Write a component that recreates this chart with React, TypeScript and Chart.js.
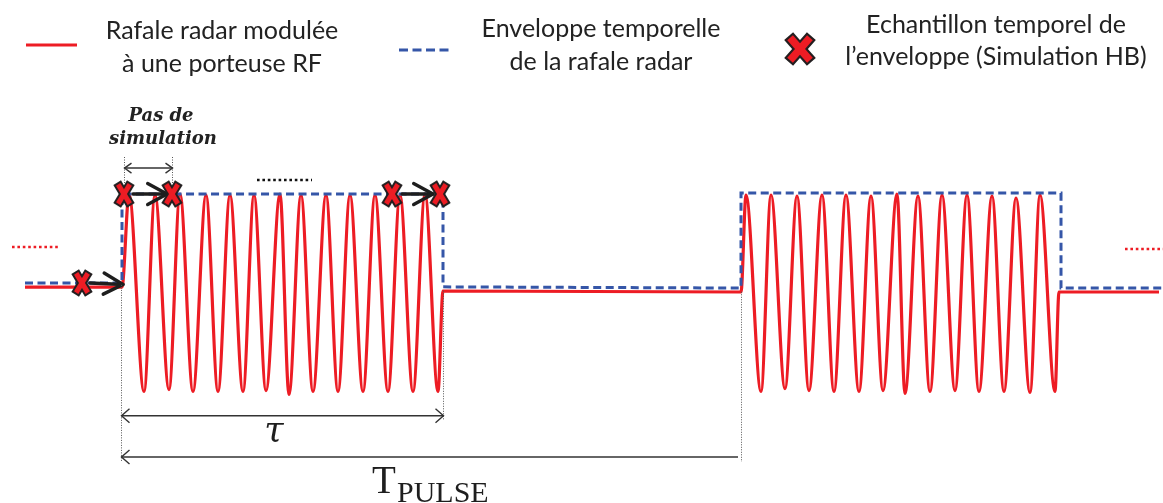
import React, { useEffect, useRef } from "react";
import { Chart, registerables } from "chart.js";

Chart.register(...registerables);

const W = 1163;
const H = 503;

// ---------- data (time in arbitrary units, amplitude normalised) ----------
const leadT = [25, 122];
const leadV = [0.058, 0.058];

const burst1PeakT = [129, 155, 180, 206, 230, 254, 280, 301, 326, 350, 375, 400, 425];
const burst1PeakV = [1.0, 0.99, 1.0, 0.99, 0.99, 0.99, 1.0, 0.99, 0.99, 0.99, 0.99, 0.99, 1.0];
const burst1TroughT = [144, 169, 193, 218, 243, 266, 289, 313, 338, 363, 388, 413, 438];
const burst1TroughV = [-1.0, -0.98, -1.0, -1.0, -1.0, -0.99, -1.03, -1.0, -1.0, -1.0, -1.0, -1.0, -1.0];

const gapT = [443, 741];
const gapV = [0.018, 0.008];

const burst2PeakT = [746, 771, 797, 822, 846, 871, 897, 918, 942, 967, 992, 1016, 1040];
const burst2PeakV = [0.99, 0.99, 0.98, 0.99, 0.99, 0.98, 1.0, 0.98, 0.99, 0.99, 0.98, 0.96, 0.99];
const burst2TroughT = [761, 785, 809, 834, 859, 883, 905, 930, 955, 979, 1004, 1030, 1055];
const burst2TroughV = [-1.0, -0.97, -0.99, -1.0, -1.0, -0.99, -1.02, -1.0, -0.99, -1.0, -1.0, -1.01, -1.0];

const tailT = [1059, 1159];
const tailV = [0.008, 0.008];

const envT = [25, 122, 122, 443, 443, 741, 741, 1061, 1061, 1163];
const envV = [0.099, 0.099, 1.0, 1.0, 0.06, 0.048, 1.01, 1.01, 0.048, 0.048];

const sampleT = [82, 124, 172, 392, 440];
const sampleV = [0.099, 1.0, 1.0, 1.0, 1.0];

// annotation anchors (time / amplitude)
const pulseStartT = 121;
const pulseEndT = 443;
const nextPulseT = 741;
const tauArrowV = -1.245;
const tpulseArrowV = -1.663;
const stepArrowV = 1.263;
const stepGuideTopV = 1.375;
const ellipsisT = [257, 312];
const ellipsisV = 1.142;
const leftDotsT = [12, 60];
const leftDotsV = 0.463;
const rightDotsT = [1125, 1163];
const rightDotsV = 0.443;

const legendLabels = [
  ["Rafale radar modulée", "à une porteuse RF"],
  ["Enveloppe temporelle", "de la rafale radar"],
  ["Echantillon temporel de", "l\u2019enveloppe (Simulation HB)"],
];

const RED = "#ed1c24";
const BLUE = "#3556a8";
const INK = "#222222";

function makeCross(w: number, h: number, t: number, o: number): HTMLCanvasElement {
  const c = document.createElement("canvas");
  c.width = w;
  c.height = h;
  const g = c.getContext("2d")!;
  const m = (t + 2 * o) * 0.72;
  const segs = [
    [m, m, w - m, h - m],
    [w - m, m, m, h - m],
  ];
  g.lineCap = "square";
  g.strokeStyle = "#231f20";
  g.lineWidth = t + 2 * o;
  segs.forEach(([a, b, cc, d]) => {
    g.beginPath();
    g.moveTo(a, b);
    g.lineTo(cc, d);
    g.stroke();
  });
  g.strokeStyle = RED;
  g.lineWidth = t;
  segs.forEach(([a, b, cc, d]) => {
    g.beginPath();
    g.moveTo(a, b);
    g.lineTo(cc, d);
    g.stroke();
  });
  return c;
}

function buildCarrier() {
  const pts: { x: number; y: number }[] = [];
  leadT.forEach((t, i) => pts.push({ x: t, y: leadV[i] }));
  burst1PeakT.forEach((t, i) => {
    pts.push({ x: t, y: burst1PeakV[i] });
    pts.push({ x: burst1TroughT[i], y: burst1TroughV[i] });
  });
  gapT.forEach((t, i) => pts.push({ x: t, y: gapV[i] }));
  burst2PeakT.forEach((t, i) => {
    pts.push({ x: t, y: burst2PeakV[i] });
    pts.push({ x: burst2TroughT[i], y: burst2TroughV[i] });
  });
  tailT.forEach((t, i) => pts.push({ x: t, y: tailV[i] }));
  return pts;
}

function boldArrow(ctx: CanvasRenderingContext2D, x1: number, y1: number, x2: number, y2: number) {
  const ang = Math.atan2(y2 - y1, x2 - x1);
  ctx.save();
  ctx.strokeStyle = "#1e1e1e";
  ctx.lineWidth = 3.4;
  ctx.lineCap = "round";
  ctx.lineJoin = "round";
  ctx.beginPath();
  ctx.moveTo(x1, y1);
  ctx.lineTo(x2, y2);
  ctx.stroke();
  const L = 22;
  const a = 0.5;
  ctx.beginPath();
  ctx.moveTo(x2 - L * Math.cos(ang - a), y2 - L * Math.sin(ang - a));
  ctx.lineTo(x2, y2);
  ctx.lineTo(x2 - L * Math.cos(ang + a), y2 - L * Math.sin(ang + a));
  ctx.stroke();
  ctx.restore();
}

function thinArrow(
  ctx: CanvasRenderingContext2D,
  x1: number,
  x2: number,
  y: number,
  headL: boolean,
  headR: boolean,
  hl = 8,
  hw = 7
) {
  ctx.save();
  ctx.strokeStyle = "#333";
  ctx.lineWidth = 1.4;
  ctx.beginPath();
  ctx.moveTo(x1, y);
  ctx.lineTo(x2, y);
  ctx.stroke();
  if (headL) {
    ctx.beginPath();
    ctx.moveTo(x1 + hl, y - hw);
    ctx.lineTo(x1, y);
    ctx.lineTo(x1 + hl, y + hw);
    ctx.stroke();
  }
  if (headR) {
    ctx.beginPath();
    ctx.moveTo(x2 - hl, y - hw);
    ctx.lineTo(x2, y);
    ctx.lineTo(x2 - hl, y + hw);
    ctx.stroke();
  }
  ctx.restore();
}

function dottedV(ctx: CanvasRenderingContext2D, x: number, y1: number, y2: number) {
  ctx.save();
  ctx.strokeStyle = "#555";
  ctx.lineWidth = 1;
  ctx.setLineDash([1, 1.5]);
  ctx.beginPath();
  ctx.moveTo(x + 0.5, y1);
  ctx.lineTo(x + 0.5, y2);
  ctx.stroke();
  ctx.restore();
}

function dottedH(ctx: CanvasRenderingContext2D, x1: number, x2: number, y: number, color: string) {
  ctx.save();
  ctx.strokeStyle = color;
  ctx.lineWidth = 2.6;
  ctx.setLineDash([2.6, 2.8]);
  ctx.beginPath();
  ctx.moveTo(x1, y);
  ctx.lineTo(x2, y);
  ctx.stroke();
  ctx.restore();
}

export default function App() {
  const ref = useRef<HTMLCanvasElement>(null);

  useEffect(() => {
    let chart: Chart | null = null;
    let cancelled = false;
    const fonts = [
      "25px Lato",
      "bold italic 18px 'DejaVu Serif'",
      "italic 35px 'DejaVu Serif'",
      "39px 'Liberation Serif'",
    ];
    const fd: any = (document as any).fonts;
    const ready = fd ? Promise.all(fonts.map((f) => fd.load(f))).catch(() => null) : Promise.resolve(null);

    ready.then(() => {
      if (cancelled || !ref.current) return;
      const crossSmall = makeCross(22, 28, 5, 2);
      const crossLegend = makeCross(32, 34, 7.5, 2.2);

      const annotations = {
        id: "annotations",
        afterDatasetDraw(c: any, args: any) {
          if (args.index !== 1) return;
          const ctx = c.ctx as CanvasRenderingContext2D;
          const px = (t: number) => c.scales.x.getPixelForValue(t);
          const py = (v: number) => c.scales.y.getPixelForValue(v);
          // arrows between successive samples
          boldArrow(ctx, px(sampleT[0] + 8), py(sampleV[0]), px(pulseStartT + 2), py(sampleV[0] - 0.015));
          boldArrow(ctx, px(sampleT[1] + 9), py(sampleV[1]), px(sampleT[2] - 5), py(sampleV[2]));
          boldArrow(ctx, px(sampleT[3] + 10), py(sampleV[3]), px(sampleT[4] - 7), py(sampleV[4]));
        },
        afterDraw(c: any) {
          const ctx = c.ctx as CanvasRenderingContext2D;
          const px = (t: number) => c.scales.x.getPixelForValue(t);
          const py = (v: number) => c.scales.y.getPixelForValue(v);

          // ---- legend ----
          ctx.save();
          ctx.strokeStyle = RED;
          ctx.lineWidth = 3;
          ctx.beginPath();
          ctx.moveTo(26, 45);
          ctx.lineTo(77, 45);
          ctx.stroke();
          ctx.strokeStyle = BLUE;
          ctx.setLineDash([9, 4.5]);
          ctx.beginPath();
          ctx.moveTo(399, 50);
          ctx.lineTo(450, 50);
          ctx.stroke();
          ctx.setLineDash([]);
          ctx.drawImage(crossLegend, 800 - 16, 49 - 17);

          ctx.fillStyle = INK;
          ctx.font = "25px Lato";
          ctx.textAlign = "center";
          ctx.textBaseline = "alphabetic";
          const lx = [222, 601, 996];
          const ly = [
            [39, 72],
            [37, 70],
            [33, 65],
          ];
          legendLabels.forEach((lines, i) => {
            lines.forEach((s, j) => ctx.fillText(s, lx[i], ly[i][j]));
          });
          ctx.restore();

          // ---- continuation dots ----
          dottedH(ctx, px(leftDotsT[0]), px(leftDotsT[1]), py(leftDotsV), RED);
          dottedH(ctx, px(rightDotsT[0]), px(rightDotsT[1]), py(rightDotsV), RED);
          dottedH(ctx, px(ellipsisT[0]), px(ellipsisT[1]), py(ellipsisV), "#111");

          // ---- simulation step ----
          dottedV(ctx, px(sampleT[1]), py(stepGuideTopV), py(sampleV[1]) - 11);
          dottedV(ctx, px(sampleT[2]), py(stepGuideTopV), py(sampleV[2]) - 11);
          thinArrow(ctx, px(sampleT[1]) + 0.5, px(sampleT[2]) + 0.5, py(stepArrowV), true, true, 7, 5);
          ctx.save();
          ctx.fillStyle = "#222";
          ctx.font = "bold italic 18px 'DejaVu Serif'";
          ctx.textAlign = "center";
          ctx.fillText("Pas de", 161, 121);
          ctx.fillText("simulation", 163, 144);
          ctx.restore();

          // ---- tau & T_pulse ----
          dottedV(ctx, px(pulseStartT), py(0.08), py(tpulseArrowV) + 4);
          dottedV(ctx, px(pulseEndT), py(0.02), py(tauArrowV) + 4);
          dottedV(ctx, px(nextPulseT), py(0.01), py(tpulseArrowV) + 5);
          thinArrow(ctx, px(pulseStartT) + 0.5, px(pulseEndT) + 0.5, py(tauArrowV), true, true);
          thinArrow(ctx, px(pulseStartT) + 0.5, px(nextPulseT) - 3, py(tpulseArrowV), true, false);

          ctx.save();
          ctx.fillStyle = "#1e1e1e";
          ctx.font = "italic 35px 'DejaVu Serif'";
          ctx.textAlign = "center";
          ctx.fillText("\u03c4", 274, 442);
          ctx.textAlign = "left";
          ctx.font = "39px 'Liberation Serif'";
          ctx.fillText("T", 372, 493);
          ctx.font = "30px 'Liberation Serif'";
          ctx.fillText("PULSE", 397, 502);
          ctx.restore();
        },
      };

      chart = new Chart(ref.current, {
        type: "line",
        data: {
          datasets: [
            {
              label: "Rafale radar modulée à une porteuse RF",
              data: buildCarrier(),
              borderColor: RED,
              borderWidth: 3.2,
              pointRadius: 0,
              cubicInterpolationMode: "monotone",
              fill: false,
              order: 2,
            },
            {
              label: "Enveloppe temporelle de la rafale radar",
              data: envT.map((t, i) => ({ x: t, y: envV[i] })),
              borderColor: BLUE,
              borderWidth: 3,
              borderDash: [8, 4.5],
              pointRadius: 0,
              tension: 0,
              fill: false,
              order: 1,
            },
            {
              label: "Echantillon temporel de l'enveloppe (Simulation HB)",
              data: sampleT.map((t, i) => ({ x: t, y: sampleV[i] })),
              showLine: false,
              pointStyle: crossSmall as any,
              pointRadius: 10,
              order: 0,
            },
          ],
        },
        options: {
          animation: false,
          responsive: false,
          maintainAspectRatio: false,
          layout: { padding: 0, autoPadding: false } as any,
          events: [],
          scales: {
            x: { type: "linear", min: 0, max: 1163, display: false },
            y: { type: "linear", min: -2.129, max: 2.965, display: false },
          },
          plugins: {
            legend: { display: false },
            tooltip: { enabled: false },
          },
        },
        plugins: [annotations as any],
      });
    });

    return () => {
      cancelled = true;
      if (chart) chart.destroy();
    };
  }, []);

  return (
    <div style={{ position: "fixed", left: 0, top: 0, width: W, height: H, background: "#fff" }}>
      <canvas ref={ref} width={W} height={H} style={{ display: "block", width: W, height: H }} />
    </div>
  );
}
